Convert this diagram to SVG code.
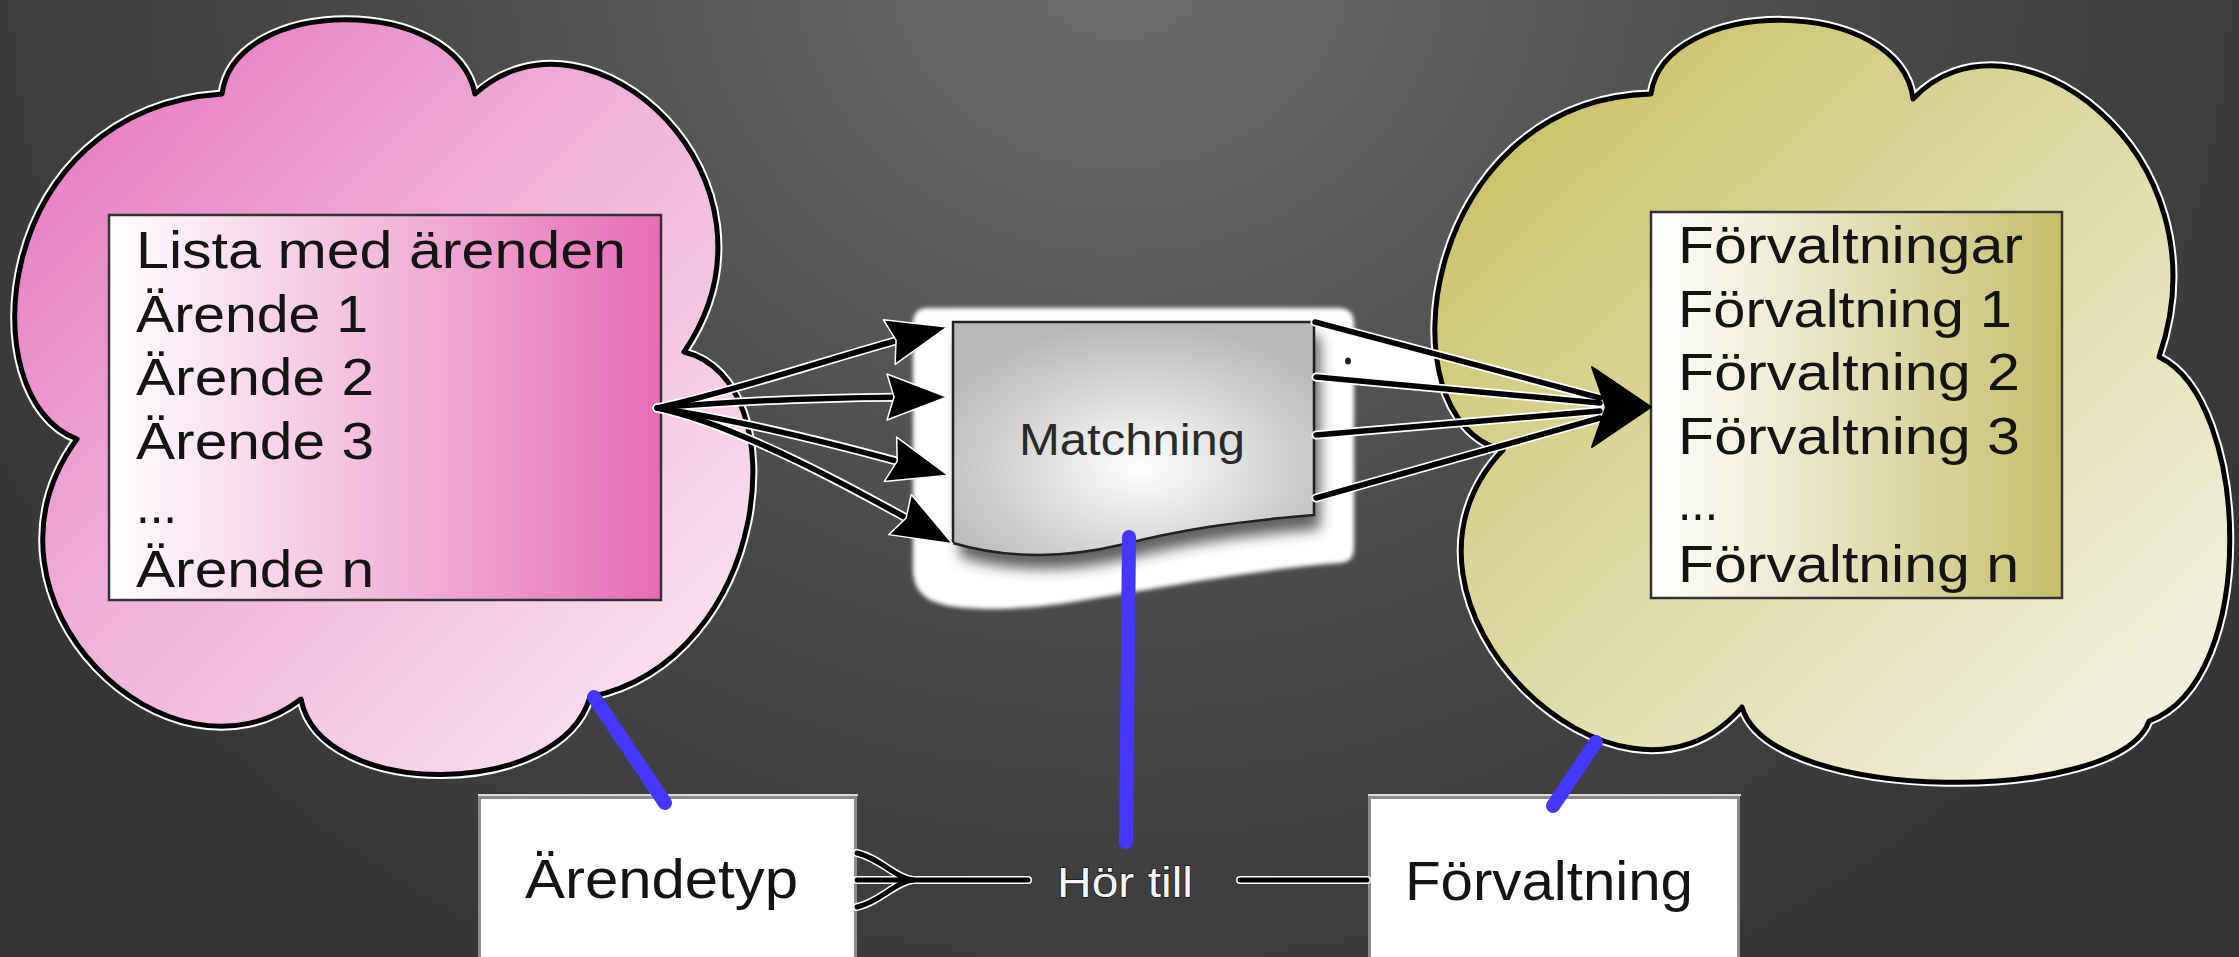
<svg xmlns="http://www.w3.org/2000/svg" width="2239" height="957" viewBox="0 0 2239 957">
<defs>
<style>
.t{font-family:"Liberation Sans",Arial,Helvetica,sans-serif;fill:#141414}
.list{font-size:52px}
.cloudHalo{fill:none;stroke:#ffffff;stroke-width:9}
.cloudLine{stroke:#000;stroke-width:5;stroke-linejoin:round}
.halo{fill:none;stroke:#ffffff;stroke-width:9;stroke-linecap:round}
.edge{fill:none;stroke:#000;stroke-width:5.5;stroke-linecap:round}
.halo2{fill:none;stroke:#ffffff;stroke-width:8;stroke-linecap:round}
.edge2{fill:none;stroke:#000;stroke-width:5;stroke-linecap:round}
.blue{fill:none;stroke:#4636ff;stroke-width:14;stroke-linecap:round}
.box{fill:#ffffff;stroke:#8c8c8c;stroke-width:3}
</style>
<radialGradient id="bg" gradientUnits="userSpaceOnUse" cx="1120" cy="-40" r="1300" gradientTransform="translate(1120,-40) scale(1,0.9) translate(-1120,40)">
<stop offset="0" stop-color="#6e6e6e"/>
<stop offset="0.55" stop-color="#4a4a4a"/>
<stop offset="1" stop-color="#363636"/>
</radialGradient>
<linearGradient id="pinkCloud" x1="0" y1="0" x2="1" y2="1">
<stop offset="0" stop-color="#e470bc"/>
<stop offset="0.45" stop-color="#f0b0d8"/>
<stop offset="1" stop-color="#fcecf5"/>
</linearGradient>
<linearGradient id="oliveCloud" x1="0" y1="0" x2="1" y2="1">
<stop offset="0" stop-color="#c4bc58"/>
<stop offset="0.45" stop-color="#dcd8a0"/>
<stop offset="1" stop-color="#f6f4ea"/>
</linearGradient>
<linearGradient id="pinkRect" x1="0" y1="0" x2="1" y2="0">
<stop offset="0" stop-color="#ffffff"/>
<stop offset="0.5" stop-color="#f2b8da"/>
<stop offset="1" stop-color="#e66cb6"/>
</linearGradient>
<linearGradient id="oliveRect" x1="0" y1="0" x2="1" y2="0">
<stop offset="0" stop-color="#ffffff"/>
<stop offset="0.5" stop-color="#e2dfb8"/>
<stop offset="1" stop-color="#c6be6a"/>
</linearGradient>
<radialGradient id="matchGrad" cx="0.52" cy="0.62" r="0.62">
<stop offset="0" stop-color="#fefefe"/>
<stop offset="1" stop-color="#b8b8b8"/>
</radialGradient>
<filter id="soft" x="-10%" y="-10%" width="120%" height="120%"><feGaussianBlur stdDeviation="2"/></filter>
<filter id="shadow" x="-20%" y="-20%" width="140%" height="140%"><feGaussianBlur stdDeviation="7"/></filter>
<marker id="arrow" markerUnits="userSpaceOnUse" viewBox="-2 -2 64 50" refX="40" refY="23" markerWidth="64" markerHeight="50" orient="auto">
<path d="M0,0 L60,23 L0,46 L7,23 Z" fill="#000" stroke="#fff" stroke-width="1.5" stroke-linejoin="round"/>
</marker>
</defs>

<rect x="0" y="0" width="2239" height="957" fill="url(#bg)"/>

<g id="matchning">
<path d="M928,308 L1338,308 Q1354,308 1354,324 L1354,548 Q1354,562 1340,563 C1250,570 1150,590 1060,604 C1000,612 950,610 930,600 Q913,590 913,570 L913,324 Q913,308 928,308 Z" fill="#ffffff" filter="url(#soft)"/>
<path d="M1317,323 L1447,356 L1462,390 L1317,378 Z" fill="#ffffff" filter="url(#soft)"/>
<path d="M960,336 L1320,336 L1320,529 C1236,536 1186,544 1126,559 C1076,571 1016,574 960,557 Z" fill="#2a2a2a" opacity="0.75" filter="url(#shadow)"/>
<path d="M953,322 L1314,322 L1314,515 C1230,522 1180,530 1120,545 C1070,557 1010,560 953,543 Z" fill="url(#matchGrad)" stroke="#222" stroke-width="2.5"/>
<text class="t" x="1019" y="455" font-size="45" textLength="226" lengthAdjust="spacingAndGlyphs" style="fill:#2a2a2a">Matchning</text>
<ellipse cx="1348" cy="361" rx="3" ry="3.5" fill="#222"/>
</g>

<g id="lista-med-arenden">
<path class="cloudHalo" d="M77,439 C-30,400 -10,110 222,94 C235,-5 455,-5 475,94 C590,-10 800,180 684,352 C800,380 770,660 590,697 C560,800 320,800 301,699 C170,800 -40,600 77,439 Z"/>
<path class="cloudLine" fill="url(#pinkCloud)" d="M77,439 C-30,400 -10,110 222,94 C235,-5 455,-5 475,94 C590,-10 800,180 684,352 C800,380 770,660 590,697 C560,800 320,800 301,699 C170,800 -40,600 77,439 Z"/>
<rect x="109" y="215" width="552" height="385" fill="url(#pinkRect)" stroke="#333" stroke-width="2.5"/>
<text class="t list" x="136" y="268" textLength="490" lengthAdjust="spacingAndGlyphs">Lista med ärenden</text>
<text class="t list" x="136" y="332" textLength="232" lengthAdjust="spacingAndGlyphs">Ärende 1</text>
<text class="t list" x="136" y="395" textLength="238" lengthAdjust="spacingAndGlyphs">Ärende 2</text>
<text class="t list" x="136" y="459" textLength="238" lengthAdjust="spacingAndGlyphs">Ärende 3</text>
<text class="t list" x="136" y="523" textLength="41" lengthAdjust="spacingAndGlyphs">...</text>
<text class="t list" x="136" y="587" textLength="238" lengthAdjust="spacingAndGlyphs">Ärende n</text>
</g>

<g id="forvaltningar">
<path class="cloudHalo" d="M1503,450 C1380,420 1420,100 1651,94 C1665,-5 1900,-5 1913,99 C2010,-5 2230,150 2159,357 C2250,400 2260,680 2149,721 C2120,805 1770,805 1742,707 C1620,850 1360,600 1503,450 Z"/>
<path class="cloudLine" fill="url(#oliveCloud)" d="M1503,450 C1380,420 1420,100 1651,94 C1665,-5 1900,-5 1913,99 C2010,-5 2230,150 2159,357 C2250,400 2260,680 2149,721 C2120,805 1770,805 1742,707 C1620,850 1360,600 1503,450 Z"/>
<rect x="1651" y="212" width="411" height="386" fill="url(#oliveRect)" stroke="#333" stroke-width="2.5"/>
<text class="t list" x="1678" y="263" textLength="345" lengthAdjust="spacingAndGlyphs">Förvaltningar</text>
<text class="t list" x="1678" y="327" textLength="334" lengthAdjust="spacingAndGlyphs">Förvaltning 1</text>
<text class="t list" x="1678" y="390" textLength="342" lengthAdjust="spacingAndGlyphs">Förvaltning 2</text>
<text class="t list" x="1678" y="454" textLength="342" lengthAdjust="spacingAndGlyphs">Förvaltning 3</text>
<text class="t list" x="1678" y="520" textLength="40" lengthAdjust="spacingAndGlyphs">...</text>
<text class="t list" x="1678" y="582" textLength="341" lengthAdjust="spacingAndGlyphs">Förvaltning n</text>
</g>

<g id="arendetyp">
<rect class="box" x="479.5" y="797.5" width="376" height="175"/>
<line x1="478" y1="795" x2="858" y2="795" stroke="#dcdcdc" stroke-width="2"/>
<text class="t" x="525" y="898" font-size="56" textLength="273" lengthAdjust="spacingAndGlyphs">Ärendetyp</text>
</g>

<g id="forvaltning">
<rect class="box" x="1369.5" y="797.5" width="369" height="175"/>
<line x1="1368" y1="795" x2="1741" y2="795" stroke="#dcdcdc" stroke-width="2"/>
<text class="t" x="1405" y="900" font-size="56" textLength="288" lengthAdjust="spacingAndGlyphs">Förvaltning</text>
</g>

<g id="connectors">
<g>
<path class="halo" d="M657,408 C740,390 840,355 928,332"/>
<path class="halo" d="M657,408 C740,400 850,397 927,397"/>
<path class="halo" d="M657,408 C740,420 850,448 929,470"/>
<path class="halo" d="M657,408 C740,425 865,495 935,534"/>
<path class="edge" marker-end="url(#arrow)" d="M657,408 C740,390 840,355 928,332"/>
<path class="edge" marker-end="url(#arrow)" d="M657,408 C740,400 850,397 927,397"/>
<path class="edge" marker-end="url(#arrow)" d="M657,408 C740,420 850,448 929,470"/>
<path class="edge" marker-end="url(#arrow)" d="M657,408 C740,425 865,495 935,534"/>
</g>
<g>
<path class="halo" d="M1315,322 L1600,398"/>
<path class="halo" d="M1316,377 L1600,403"/>
<path class="halo" d="M1316,435 L1600,411"/>
<path class="halo" d="M1316,498 L1600,418"/>
<path class="edge" d="M1315,322 L1600,398"/>
<path class="edge" d="M1316,377 L1600,403"/>
<path class="edge" d="M1316,435 L1600,411"/>
<path class="edge" d="M1316,498 L1600,418"/>
<path d="M1651,407 L1592,367 L1606,407 L1592,447 Z" fill="#000" stroke="#000" stroke-width="2" stroke-linejoin="round"/>
</g>
<g>
<path class="halo2" d="M857,853 C880,858 895,878 913,880"/>
<path class="halo2" d="M857,907 C880,902 895,882 913,880"/>
<path class="halo2" d="M857,880 L1028,880"/>
<path class="halo2" d="M1240,880 L1367,880"/>
<path class="edge2" d="M857,853 C880,858 895,878 913,880"/>
<path class="edge2" d="M857,907 C880,902 895,882 913,880"/>
<path class="edge2" d="M857,880 L1028,880"/>
<path class="edge2" d="M1240,880 L1367,880"/>
<text class="t" x="1057" y="897" font-size="42" textLength="136" lengthAdjust="spacingAndGlyphs" style="fill:#f4f6fa;stroke:#1a1a1a;stroke-width:1.6px;paint-order:stroke">Hör till</text>
</g>
<g>
<path class="blue" d="M594,697 L665,803"/>
<path class="blue" d="M1129,537 L1126,842"/>
<path class="blue" d="M1596,742 L1553,806"/>
</g>
</g>
</svg>
